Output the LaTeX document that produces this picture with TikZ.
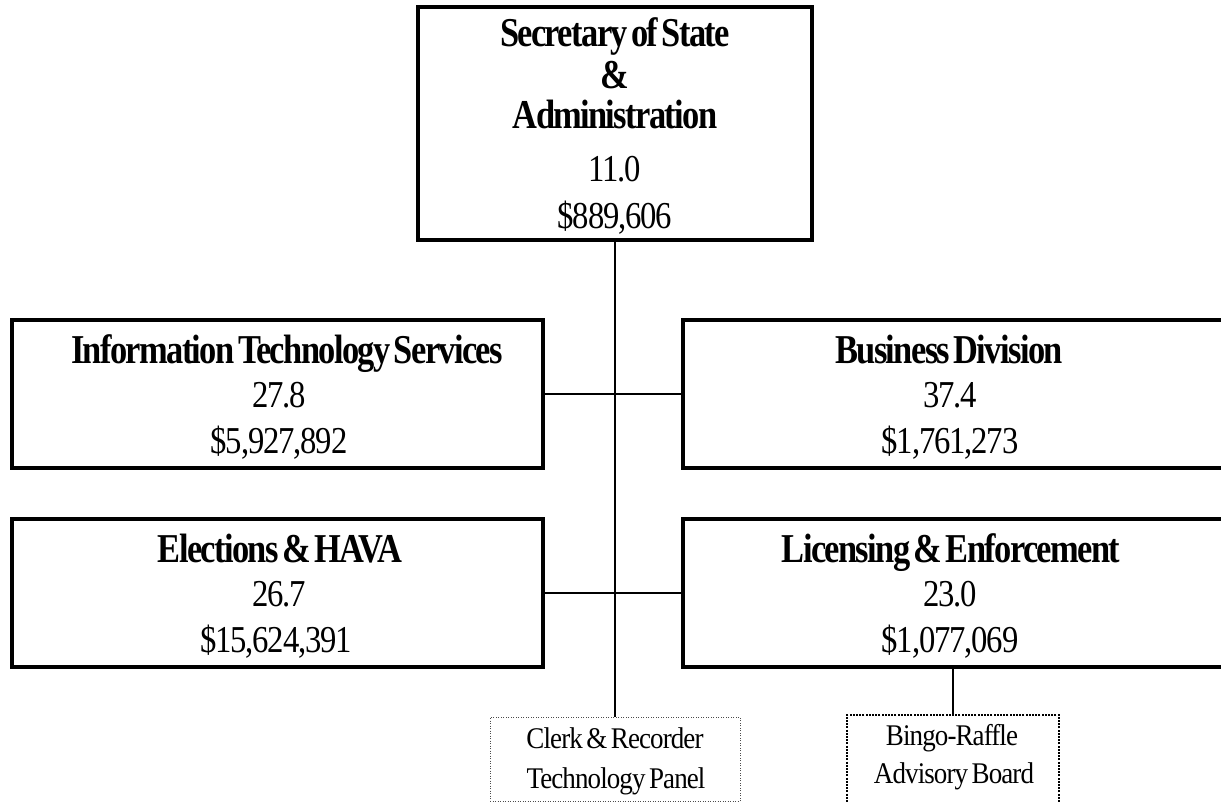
\documentclass[tikz,border=0pt]{standalone}
\usepackage{fontspec}
\setmainfont{Liberation Serif}
\newfontfamily\hdfont{Liberation Serif}[FakeStretch=0.84, LetterSpace=-4, WordSpace=0.5]
\newfontfamily\rgfont{Liberation Serif}[FakeStretch=0.86, LetterSpace=-3]
\newfontfamily\smfont{Liberation Serif}[FakeStretch=0.9, LetterSpace=-3, WordSpace=0.6]
\tikzset{
  unitbox/.style={draw, line width=3.5pt, rectangle, inner sep=0pt},
  conn/.style={draw, line width=1.5pt},
  thindot/.style={draw=black!70, line width=1pt, dash pattern=on 1pt off 1.5pt, rectangle, inner sep=0pt},
  thickdot/.style={draw, line width=2.5pt, dash pattern=on 2pt off 1.2pt, rectangle, inner sep=0pt},
  head/.style={anchor=base, inner sep=0pt, font=\hdfont\bfseries\fontsize{41}{44}\selectfont},
  val/.style={anchor=base, inner sep=0pt, font=\rgfont\fontsize{38}{44}\selectfont},
  small/.style={anchor=base, inner sep=0pt, font=\smfont\fontsize{30}{36}\selectfont}
}
\begin{document}
\begin{tikzpicture}[x=1pt, y=-1pt]
\useasboundingbox (0,0) rectangle (1221,802);
% boxes
\node[unitbox, minimum width=394pt, minimum height=233pt] (top) at (615,123.5) {};
\node[unitbox, minimum width=531pt, minimum height=148pt] (it) at (277.5,394) {};
\node[unitbox, minimum width=543pt, minimum height=148pt] (biz) at (954.5,394) {};
\node[unitbox, minimum width=531pt, minimum height=148pt] (el) at (277.5,593) {};
\node[unitbox, minimum width=543pt, minimum height=148pt] (lic) at (954.5,593) {};
\node[thindot, minimum width=250pt, minimum height=84pt] (clerk) at (615,759) {};
\node[thickdot, minimum width=212pt, minimum height=115pt] (bingo) at (953,772.5) {};
% texts
\node[head] (topa) at (615,47) {Secretary of State};
\node[head] (topb) at (615,89) {\&};
\node[head] (topc) at (615,129) {Administration};
\node[val] (topd) at (615,182) {11.0};
\node[val] (tope) at (615,229) {\$889,606};
\node[head] (ita) at (287,363) {Information Technology Services};
\node[val] (itb) at (279,407) {27.8};
\node[val] (itc) at (279,453) {\$5,927,892};
\node[head] (biza) at (949,363) {Business Division};
\node[val] (bizb) at (950,407) {37.4};
\node[val] (bizc) at (950,453) {\$1,761,273};
\node[head] (ela) at (280,562) {Elections \& HAVA};
\node[val] (elb) at (279,606) {26.7};
\node[val] (elc) at (276,652) {\$15,624,391};
\node[head] (lica) at (951,562) {Licensing \& Enforcement};
\node[val] (licb) at (950,606) {23.0};
\node[val] (licc) at (950,652) {\$1,077,069};
\node[small] (clerka) at (615,748) {Clerk \& Recorder};
\node[small] (clerkb) at (616,788) {Technology Panel};
\node[small] (bingoa) at (952,745) {Bingo-Raffle};
\node[small] (bingob) at (954,783) {Advisory Board};
% connectors
\draw[conn] (top.south) -- (clerk.north);
\draw[conn] (it.east) -- (biz.west);
\draw[conn] (el.east) -- (lic.west);
\draw[conn] (bingo.north |- lic.south) -- (bingo.north);
\end{tikzpicture}
\end{document}
